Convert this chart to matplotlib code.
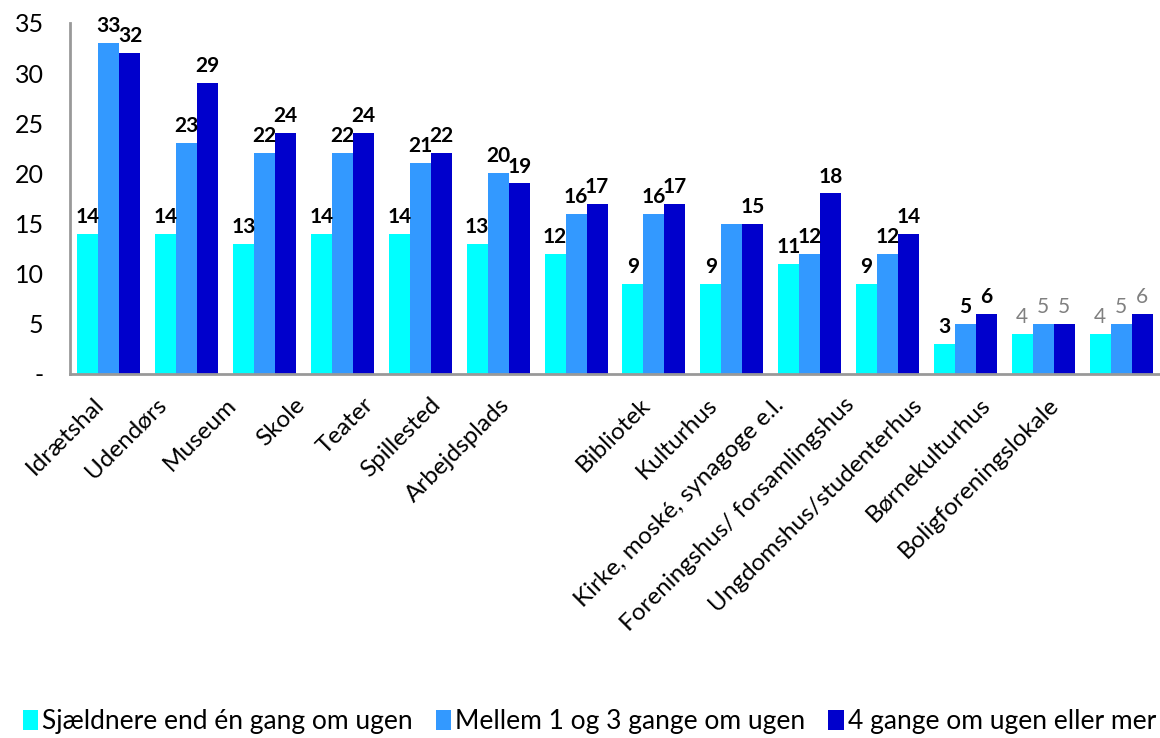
import matplotlib
matplotlib.use("Agg")
import matplotlib.pyplot as plt
from matplotlib.transforms import ScaledTranslation
import numpy as np

plt.rcParams['font.family'] = ['Lato', 'DejaVu Sans']

categories = ["Idrætshal", "Udendørs", "Museum", "Skole", "Teater", "Spillested",
              "Arbejdsplads", "Bibliotek", "Kulturhus", "Kirke, moské, synagoge e.l.",
              "Foreningshus/ forsamlingshus", "Ungdomshus/studenterhus",
              "Børnekulturhus", "Boligforeningslokale"]
series_names = ["Sjældnere end én gang om ugen", "Mellem 1 og 3 gange om ugen",
                "4 gange om ugen eller mer"]
rare = [14, 14, 13, 14, 14, 13, 12, 9, 9, 11, 9, 3, 4, 4]
mid = [33, 23, 22, 22, 21, 20, 16, 16, 15, 12, 12, 5, 5, 5]
often = [32, 29, 24, 24, 22, 19, 17, 17, 15, 18, 14, 6, 5, 6]
yticks = [0, 5, 10, 15, 20, 25, 30, 35]
ytick_labels = ["-", "5", "10", "15", "20", "25", "30", "35"]
gray_label_cats = ["Børnekulturhus", "Boligforeningslokale"]
hidden_labels = [(8, 1)]  # Kulturhus middle label not shown

# layout: horizontal shift (px) of each rotated category label end from its tick
label_shift_px = [-9, -24, -32, -41, -51, -62, -70, -7, -18, -30, -37, -47, -57, -66]

colors = ["#00FFFF", "#3399FF", "#0000CC"]

fig = plt.figure(figsize=(11.6, 7.38), dpi=100)
ax = fig.add_axes([70/1160, 364/738, 1090/1160, 351/738])

x = np.arange(len(categories))
w = 0.27
data = [rare, mid, often]
for i, (vals, c, name) in enumerate(zip(data, colors, series_names)):
    xs = x + (i - 1) * w
    ax.bar(xs, vals, width=w, color=c, label=name, edgecolor='none')
    for j, (xx, v) in enumerate(zip(xs, vals)):
        if (j, i) in hidden_labels:
            continue
        gray = categories[j] in gray_label_cats
        ax.annotate(str(v), (xx, v), xytext=(0, 5), textcoords='offset points',
                    ha='center', va='bottom', fontsize=15,
                    fontweight='normal' if gray else 'bold',
                    color='#808080' if gray else 'black')

ax.set_xlim(-0.5, len(categories) - 0.5)
ax.set_ylim(0, 35)
ax.set_yticks(yticks)
ax.set_yticklabels(ytick_labels, fontsize=18)
ax.set_xticks(x)
ax.set_xticklabels(categories, rotation=45, ha='right', va='top',
                   rotation_mode='anchor', fontsize=17.5)
ax.tick_params(axis='both', length=0)
ax.tick_params(axis='y', pad=19)
ax.tick_params(axis='x', pad=0)
for lbl, dx in zip(ax.get_xticklabels(), label_shift_px):
    lbl.set_transform(lbl.get_transform() +
                      ScaledTranslation((dx - 7) / 100, -20 / 100, fig.dpi_scale_trans))
for s in ['top', 'right']:
    ax.spines[s].set_visible(False)
for s in ['left', 'bottom']:
    ax.spines[s].set_color('#999999')
    ax.spines[s].set_linewidth(2)

fig.legend(loc='center', bbox_to_anchor=(0.508, 1 - 722/738), ncol=3, frameon=False,
           fontsize=19, handlelength=0.6, handleheight=0.8, handletextpad=0.15,
           columnspacing=0.85)

fig.savefig("out.png", dpi=100)
